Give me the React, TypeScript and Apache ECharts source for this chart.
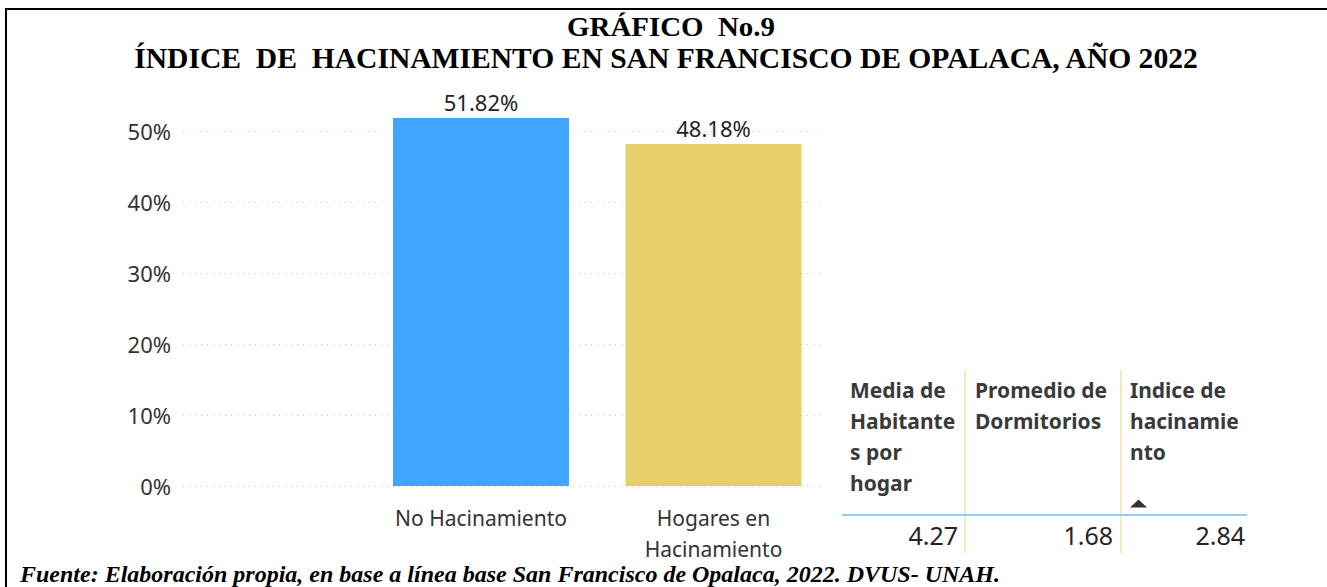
import React, { useEffect, useRef } from "react";
import * as echarts from "echarts";

const titleLines = ["GRÁFICO  No.9", "ÍNDICE  DE  HACINAMIENTO EN SAN FRANCISCO DE OPALACA, AÑO 2022"];
const footer = "Fuente: Elaboración propia, en base a línea base San Francisco de Opalaca, 2022. DVUS- UNAH.";
const categories = ["No Hacinamiento", "Hogares en\nHacinamiento"];
const values = [51.82, 48.18];
const barColors = ["#42A5FF", "#E7CF6A"];
const yTicks = [0, 10, 20, 30, 40, 50];
const tableHeaders = [
  ["Media de", "Habitante", "s por", "hogar"],
  ["Promedio de", "Dormitorios"],
  ["Indice de", "hacinamie", "nto"],
];
const tableValues = ["4.27", "1.68", "2.84"];

const FONT = "'Noto Sans', sans-serif";
const SERIF = "'Liberation Serif', 'Times New Roman', serif";

export default function App() {
  const ref = useRef<HTMLDivElement>(null);
  useEffect(() => {
    document.body.style.margin = "0";
    const chart = echarts.init(ref.current!, null, { renderer: "svg" });
    const W = 1327;
    const zeroY = 486;
    const pxPer = (486 - 131) / 50;
    const colX = [850, 975, 1130];
    const valRight = [958, 1113, 1245];
    const rowY = [390, 421, 452, 483];
    const graphic: any[] = [
      { type: "line", shape: { x1: 5, y1: 9, x2: W, y2: 9 }, style: { stroke: "#000", lineWidth: 2 } },
      { type: "line", shape: { x1: 6, y1: 8, x2: 6, y2: 587 }, style: { stroke: "#000", lineWidth: 2 } },
      { type: "text", x: 671, y: 27, scaleX: 1.07, style: { text: titleLines[0], font: `bold 27px ${SERIF}`, fill: "#000", align: "center", verticalAlign: "middle" } },
      { type: "text", x: 666, y: 58, scaleX: 1.02, style: { text: titleLines[1], font: `bold 29px ${SERIF}`, fill: "#000", align: "center", verticalAlign: "middle" } },
      { type: "text", x: 20, y: 574, style: { text: footer, font: `italic bold 24px ${SERIF}`, fill: "#000", align: "left", verticalAlign: "middle" } },
      { type: "line", shape: { x1: 965, y1: 370, x2: 965, y2: 553 }, style: { stroke: "#F3E2A6", lineWidth: 1.5 } },
      { type: "line", shape: { x1: 1121, y1: 370, x2: 1121, y2: 553 }, style: { stroke: "#F3E2A6", lineWidth: 1.5 } },
      { type: "line", shape: { x1: 842, y1: 515, x2: 1247, y2: 515 }, style: { stroke: "#96CBF5", lineWidth: 2 } },
      { type: "polygon", shape: { points: [[1130, 507.5], [1138.5, 499.5], [1147, 507.5]] }, style: { fill: "#333" } },
    ];
    tableHeaders.forEach((lines, c) => {
      lines.forEach((t, r) => {
        graphic.push({ type: "text", x: colX[c], y: rowY[r], style: { text: t, font: `bold 21px ${FONT}`, fill: "#3a3a3a", align: "left", verticalAlign: "middle" } });
      });
    });
    tableValues.forEach((v, c) => {
      graphic.push({ type: "text", x: valRight[c], y: 535, style: { text: v, font: `25px ${FONT}`, fill: "#252423", align: "right", verticalAlign: "middle" } });
    });

    chart.setOption({
      animation: false,
      graphic,
      grid: [
        { left: 183, right: W - 820, top: 131, bottom: 587 - zeroY },
        { left: 364.75, width: 465, top: zeroY - 60 * pxPer, bottom: 587 - zeroY },
      ],
      xAxis: [
        { gridIndex: 0, type: "category", data: categories, show: false },
        {
          gridIndex: 1, type: "category", data: categories,
          axisLine: { show: false }, axisTick: { show: false },
          axisLabel: { color: "#333", fontFamily: FONT, fontSize: 21, lineHeight: 31, margin: 16 },
        },
      ],
      yAxis: [
        {
          gridIndex: 0, type: "value", min: 0, max: 50, interval: 10,
          axisLine: { show: false }, axisTick: { show: false },
          axisLabel: { formatter: (v: number) => (yTicks.includes(v) ? `${v}%` : ""), color: "#333", fontFamily: FONT, fontSize: 22, margin: 12 },
          splitLine: { lineStyle: { type: [1, 5], color: "#C8C8C8", width: 1 } },
        },
        { gridIndex: 1, type: "value", min: 0, max: 60, show: false, splitLine: { show: false } },
      ],
      series: [
        {
          type: "bar", xAxisIndex: 1, yAxisIndex: 1, barWidth: 176,
          data: values.map((v, i) => ({ value: v, itemStyle: { color: barColors[i] } })),
          label: { show: true, position: "top", distance: 5, formatter: (p: any) => `${p.value.toFixed(2)}%`, color: "#252423", fontFamily: FONT, fontSize: 22 },
        },
      ],
    });
    return () => chart.dispose();
  }, []);
  return <div ref={ref} style={{ width: 1327, height: 587, background: "#fff" }} />;
}
